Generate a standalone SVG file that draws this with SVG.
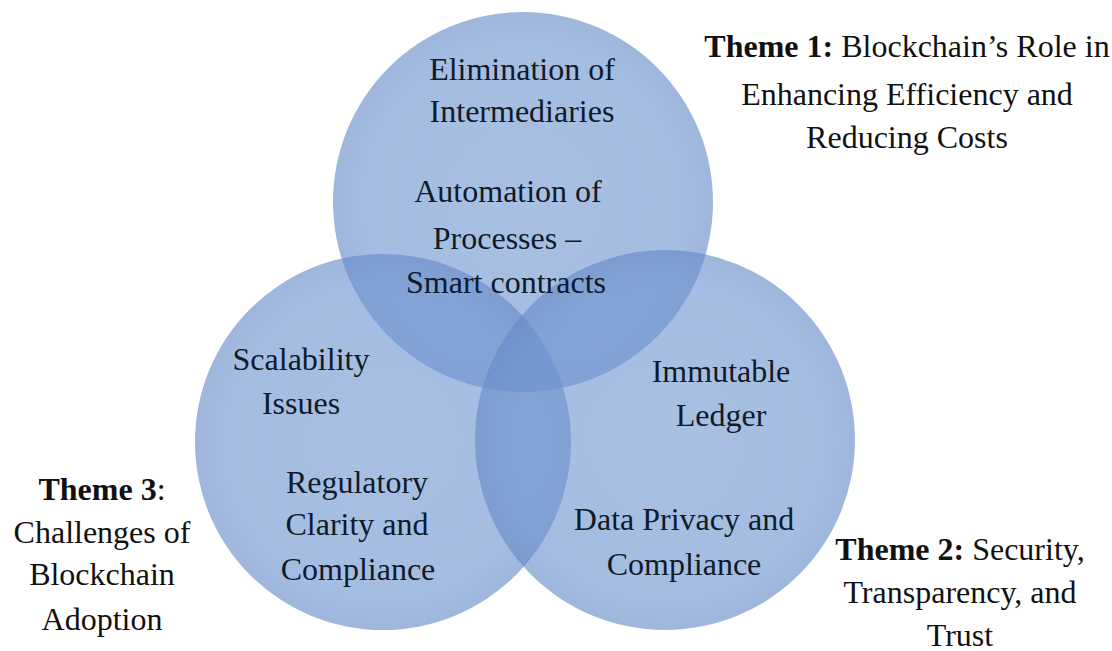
<svg xmlns="http://www.w3.org/2000/svg" width="1112" height="651" viewBox="0 0 1112 651">
  <style>
    .t { font-family: "Liberation Serif", "Times New Roman", serif; font-size: 32px; text-anchor: middle; fill: #111; }
    .in { fill: #0f1a2a; }
    .b { font-weight: bold; }
    .disc { fill: url(#discFill); fill-opacity: 0.62; }
  </style>
  <defs>
    <radialGradient id="discFill" cx="0.5" cy="0.5" r="0.5">
      <stop offset="0" stop-color="#7499d3"/>
      <stop offset="0.85" stop-color="#6d93cf"/>
      <stop offset="1" stop-color="#6489c7"/>
    </radialGradient>
  </defs>
  <rect width="1112" height="651" fill="#ffffff"/>

  <!-- three overlapping theme circles -->
  <g id="circle-theme1"><circle class="disc" cx="523" cy="202" r="190"/></g>
  <g id="circle-theme3"><circle class="disc" cx="383" cy="442" r="188"/></g>
  <g id="circle-theme2"><circle class="disc" cx="665" cy="440" r="190"/></g>

  <g id="connectors"></g>

  <!-- labels inside the circles -->
  <g id="node-intermediaries">
    <text class="t in" x="522" y="80">Elimination of</text>
    <text class="t in" x="522" y="122">Intermediaries</text>
  </g>
  <g id="node-automation">
    <text class="t in" x="508" y="202">Automation of</text>
    <text class="t in" x="507" y="249">Processes –</text>
    <text class="t in" x="506" y="293">Smart contracts</text>
  </g>
  <g id="node-scalability">
    <text class="t in" x="301" y="370">Scalability</text>
    <text class="t in" x="301" y="414">Issues</text>
  </g>
  <g id="node-regulatory">
    <text class="t in" x="357" y="493">Regulatory</text>
    <text class="t in" x="357" y="535">Clarity and</text>
    <text class="t in" x="358" y="580">Compliance</text>
  </g>
  <g id="node-immutable">
    <text class="t in" x="721" y="382">Immutable</text>
    <text class="t in" x="721" y="426">Ledger</text>
  </g>
  <g id="node-privacy">
    <text class="t in" x="684" y="530">Data Privacy and</text>
    <text class="t in" x="684" y="575">Compliance</text>
  </g>

  <!-- theme captions -->
  <g id="theme1">
    <text class="t" x="907" y="57"><tspan class="b">Theme 1:</tspan> Blockchain’s Role in</text>
    <text class="t" x="907" y="105">Enhancing Efficiency and</text>
    <text class="t" x="907" y="148">Reducing Costs</text>
  </g>
  <g id="theme2">
    <text class="t" x="960" y="560"><tspan class="b">Theme 2:</tspan> Security,</text>
    <text class="t" x="960" y="603">Transparency, and</text>
    <text class="t" x="960" y="646">Trust</text>
  </g>
  <g id="theme3">
    <text class="t" x="102" y="500"><tspan class="b">Theme 3</tspan>:</text>
    <text class="t" x="102" y="543">Challenges of</text>
    <text class="t" x="102" y="585">Blockchain</text>
    <text class="t" x="102" y="630">Adoption</text>
  </g>
</svg>
